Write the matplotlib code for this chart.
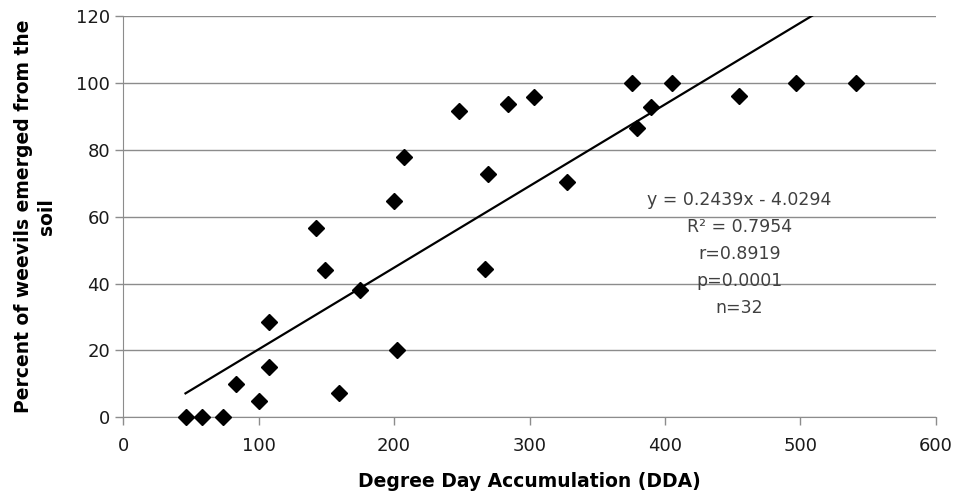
import matplotlib.pyplot as plt
import numpy as np

# Degree day accumulation vs percent emergence
dda = [46, 58, 74, 83, 100, 108, 108, 142, 149, 159, 175, 200, 202, 207,
       248, 267, 269, 284, 303, 328, 376, 379, 390, 405, 455, 497, 541]
pct = [0, 0, 0, 10, 5, 15, 28.5, 56.6, 44, 7.4, 38.2, 64.6, 20, 77.8,
       91.5, 44.3, 72.6, 93.7, 95.7, 70.3, 100, 86.4, 92.7, 100, 95.9, 100, 100]
slope, intercept = 0.2439, -4.0294
stats_text = ["y = 0.2439x - 4.0294", "R\u00b2 = 0.7954", "r=0.8919", "p=0.0001", "n=32"]

fig = plt.figure(figsize=(9.55, 4.94), dpi=100)
ax = fig.add_axes([0.129, 0.155, 0.851, 0.813])

grid_c = '#8c8c8c'
ax.set_xlim(0, 600)
ax.set_ylim(0, 120)
ax.set_xticks(range(0, 601, 100))
ax.set_yticks(range(0, 121, 20))
ax.yaxis.grid(True, color=grid_c, lw=1)
ax.set_axisbelow(True)
for s in ['top', 'right']:
    ax.spines[s].set_visible(False)
ax.spines['left'].set_color(grid_c)
ax.spines['bottom'].set_color(grid_c)
ax.tick_params(axis='both', colors=grid_c, length=6, width=1, labelsize=13, labelcolor='#1a1a1a')
ax.tick_params(axis='x', pad=8)

xs = np.array([min(dda), max(dda)])
ax.plot(xs, slope * xs + intercept, color='black', lw=1.6, clip_on=True, zorder=2)
ax.plot(dda, pct, 'D', color='black', ms=8, zorder=3, clip_on=False)

for i, t in enumerate(stats_text):
    ax.text(455, 65 - i * 8.05, t, ha='center', va='center', fontsize=12.5, color='#404040')

ax.set_xlabel("Degree Day Accumulation (DDA)", fontsize=13.5, fontweight='bold', labelpad=12)
ax.set_ylabel("Percent of weevils emerged from the\nsoil", fontsize=13.5, fontweight='bold',
              labelpad=14, linespacing=1.3)

fig.savefig('out.png', dpi=100)
